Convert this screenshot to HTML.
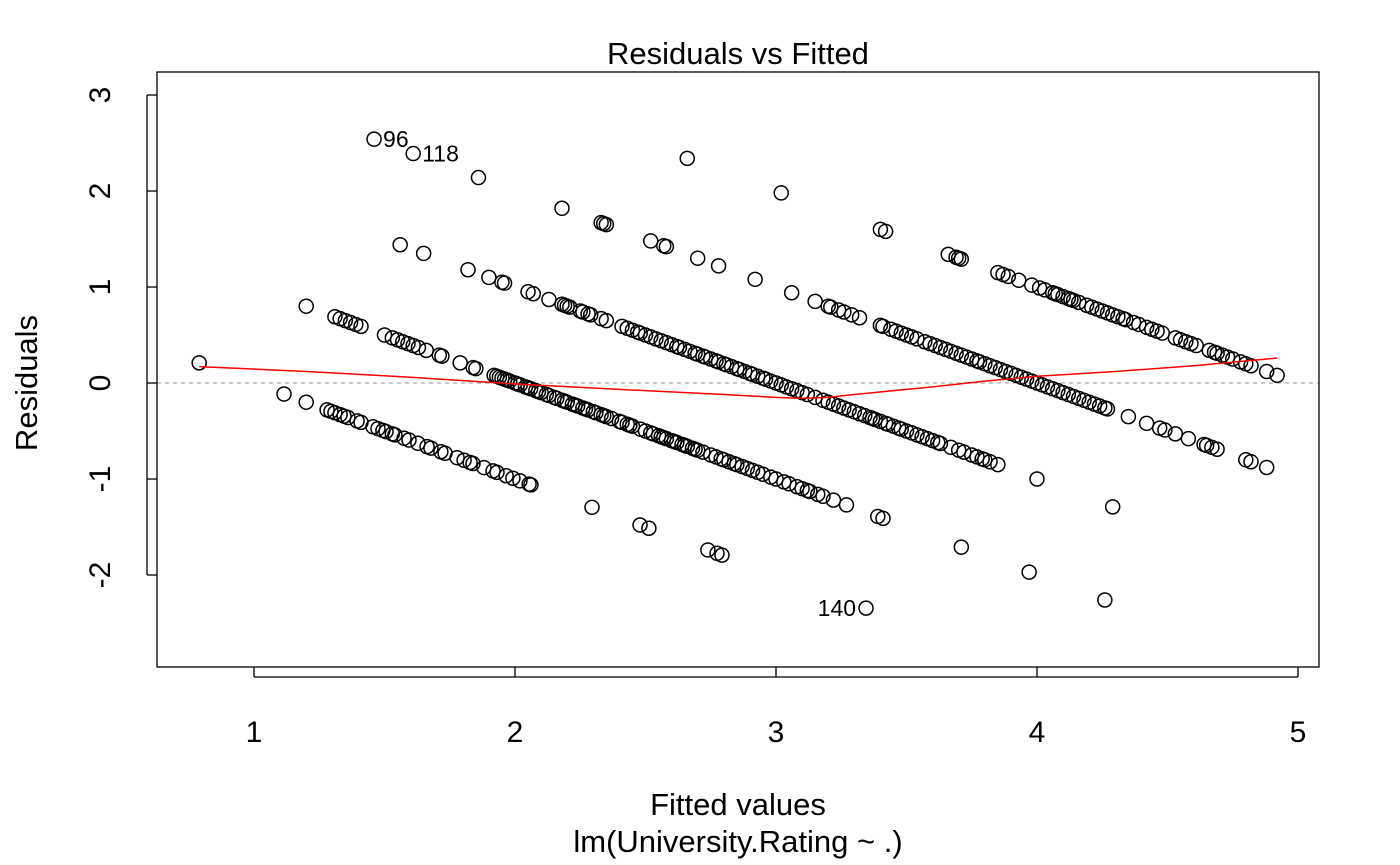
<!DOCTYPE html>
<html><head><meta charset="utf-8"><style>
html,body{margin:0;padding:0;background:#fff;}
svg{display:block;font-family:"Liberation Sans",Arial,sans-serif;}
</style></head><body>
<svg id="chart" width="1400" height="865" viewBox="0 0 1400 865" xmlns="http://www.w3.org/2000/svg">
<text x="738" y="64" font-size="31" text-anchor="middle">Residuals vs Fitted</text>
<text x="738" y="815" font-size="31" text-anchor="middle">Fitted values</text>
<text x="738" y="852" font-size="31" text-anchor="middle">lm(University.Rating ~ .)</text>
<text x="0" y="0" font-size="31" text-anchor="middle" transform="translate(37,383) rotate(-90)">Residuals</text>
<g id="axes"></g>
<g id="marks"></g>
<rect x="157" y="72" width="1162" height="595" fill="none" stroke="#000" stroke-width="1.3"/>
</svg>
<script>
const actual1 = [0.79,1.115,1.20,1.28,1.295,1.31,1.33,1.345,1.36,1.395,1.41,1.456,1.475,1.494,1.506,1.53,1.54,1.575,1.594,1.628,1.663,1.678,1.716,1.732,1.778,1.805,1.828,1.839,1.881,1.916,1.931,1.966,1.992,2.019,2.054,2.061,2.295,2.479,2.513,2.739,2.774,2.793,3.345];
const actual2 = [1.20,1.31,1.33,1.35,1.37,1.39,1.41,1.50,1.53,1.55,1.57,1.59,1.61,1.63,1.66,1.71,1.72,1.79,1.84,1.85,1.92,1.93,1.94,1.95,1.96,1.97,1.98,2.00,2.01,2.02,2.04,2.05,2.06,2.08,2.09,2.10,2.12,2.13,2.15,2.16,2.18,2.19,2.20,2.22,2.23,2.24,2.26,2.27,2.28,2.30,2.31,2.33,2.34,2.35,2.37,2.40,2.41,2.43,2.44,2.45,2.48,2.50,2.52,2.53,2.55,2.56,2.57,2.58,2.60,2.61,2.62,2.64,2.65,2.66,2.68,2.69,2.70,2.72,2.75,2.77,2.79,2.80,2.82,2.84,2.85,2.87,2.89,2.91,2.93,2.95,2.98,3.00,3.03,3.05,3.08,3.10,3.12,3.13,3.16,3.18,3.22,3.27,3.39,3.41,3.71,3.97,4.26];
const actual3 = [1.56,1.65,1.82,1.90,1.95,1.96,2.05,2.07,2.13,2.18,2.19,2.20,2.21,2.25,2.26,2.28,2.29,2.33,2.35,2.41,2.43,2.45,2.47,2.48,2.50,2.52,2.54,2.56,2.58,2.60,2.62,2.63,2.65,2.67,2.69,2.70,2.72,2.73,2.75,2.77,2.78,2.80,2.81,2.83,2.85,2.86,2.88,2.90,2.91,2.93,2.95,2.96,2.98,3.00,3.02,3.04,3.06,3.08,3.10,3.12,3.15,3.18,3.20,3.22,3.24,3.26,3.28,3.30,3.32,3.34,3.36,3.37,3.38,3.40,3.42,3.43,3.45,3.47,3.48,3.50,3.52,3.54,3.56,3.58,3.60,3.62,3.63,3.67,3.70,3.72,3.75,3.77,3.79,3.80,3.82,3.85,4.00,4.29];
const actual4 = [1.46,1.61,1.86,2.18,2.33,2.34,2.35,2.52,2.57,2.58,2.70,2.78,2.92,3.06,3.15,3.20,3.21,3.24,3.26,3.29,3.32,3.40,3.41,3.44,3.46,3.48,3.50,3.52,3.54,3.57,3.59,3.61,3.63,3.65,3.67,3.69,3.71,3.73,3.75,3.77,3.78,3.80,3.82,3.84,3.86,3.88,3.90,3.92,3.94,3.96,3.98,4.00,4.02,4.04,4.06,4.08,4.10,4.12,4.14,4.16,4.18,4.20,4.22,4.24,4.26,4.27,4.35,4.42,4.47,4.49,4.53,4.58,4.64,4.65,4.67,4.69,4.80,4.82,4.88];
const actual5 = [2.66,3.02,3.40,3.42,3.66,3.69,3.70,3.71,3.85,3.87,3.89,3.93,3.98,4.01,4.03,4.06,4.07,4.08,4.10,4.12,4.13,4.14,4.16,4.19,4.21,4.23,4.25,4.27,4.29,4.31,4.33,4.34,4.37,4.39,4.42,4.44,4.46,4.48,4.53,4.55,4.57,4.59,4.61,4.66,4.68,4.69,4.71,4.73,4.75,4.78,4.80,4.82,4.88,4.92];
const smoothX = [0.79,1.2,1.6,2.0,2.5,2.8,3.0,3.1,3.2,3.3,3.45,3.6,3.8,4.0,4.3,4.6,4.92];
const smoothY = [0.17,0.12,0.06,-0.01,-0.08,-0.12,-0.15,-0.16,-0.15,-0.12,-0.08,-0.04,0.02,0.07,0.12,0.18,0.26];
const xTicks = [1,2,3,4,5];
const yTicks = [-2,-1,0,1,2,3];
const pointLabels = ["96","118","140"];
const labelFitted = [1.46,1.61,3.345];
const labelResid = [2.54,2.39,-2.345];

const NS = "http://www.w3.org/2000/svg";
const X = v => 254 + (v - 1) * 261;
const Y = v => 383 - v * 96;
const axes = document.getElementById('axes');
const marks = document.getElementById('marks');
function mk(tag, attrs, parent) {
  const e = document.createElementNS(NS, tag);
  for (const k in attrs) e.setAttribute(k, attrs[k]);
  parent.appendChild(e);
  return e;
}
xTicks.forEach(t => {
  const l = mk('line', {x1: X(t), x2: X(t), y1: 667, y2: 677, stroke: '#000', 'stroke-width': 1.3}, axes);
  
  
  const tx = mk('text', {x: X(t), y: 742, 'font-size': 30, 'text-anchor': 'middle'}, axes);
  tx.textContent = t;
  
  
});
mk('line', {x1: X(1), x2: X(5), y1: 677, y2: 677, stroke: '#000', 'stroke-width': 1.3}, axes);
yTicks.forEach(t => {
  const l = mk('line', {x1: 147, x2: 157, y1: Y(t), y2: Y(t), stroke: '#000', 'stroke-width': 1.3}, axes);
  
  
  const tx = mk('text', {x: 0, y: 0, 'font-size': 30, 'text-anchor': 'middle', transform: `translate(110,${Y(t)}) rotate(-90)`}, axes);
  tx.textContent = t;
  
  
});
mk('line', {x1: 147, x2: 147, y1: Y(-2), y2: Y(3), stroke: '#000', 'stroke-width': 1.3}, axes);
const zl = mk('line', {x1: 157, x2: 1319, y1: Y(0), y2: Y(0), stroke: '#aaa', 'stroke-width': 1.3, 'stroke-dasharray': '4,4'}, marks);


const groups = [actual1, actual2, actual3, actual4, actual5];
groups.forEach((arr, i) => {
  const actualVal = i + 1;
  arr.forEach(f => {
    const c = mk('circle', {cx: X(f), cy: Y(actualVal - f), r: 7, fill: 'none', stroke: '#000', 'stroke-width': 1.5}, marks);
    
    
  });
});
const sp = mk('polyline', {points: smoothX.map((v, i) => X(v) + ',' + Y(smoothY[i])).join(' '), fill: 'none', stroke: '#f00', 'stroke-width': 1.5}, marks);


pointLabels.forEach((s, i) => {
  const right = labelResid[i] < 0;
  const tx = mk('text', {x: X(labelFitted[i]) + (right ? -10 : 9), y: Y(labelResid[i]) + 8, 'font-size': 23, 'text-anchor': right ? 'end' : 'start'}, marks);
  tx.textContent = s;
  
  
});
</script>
</body></html>
